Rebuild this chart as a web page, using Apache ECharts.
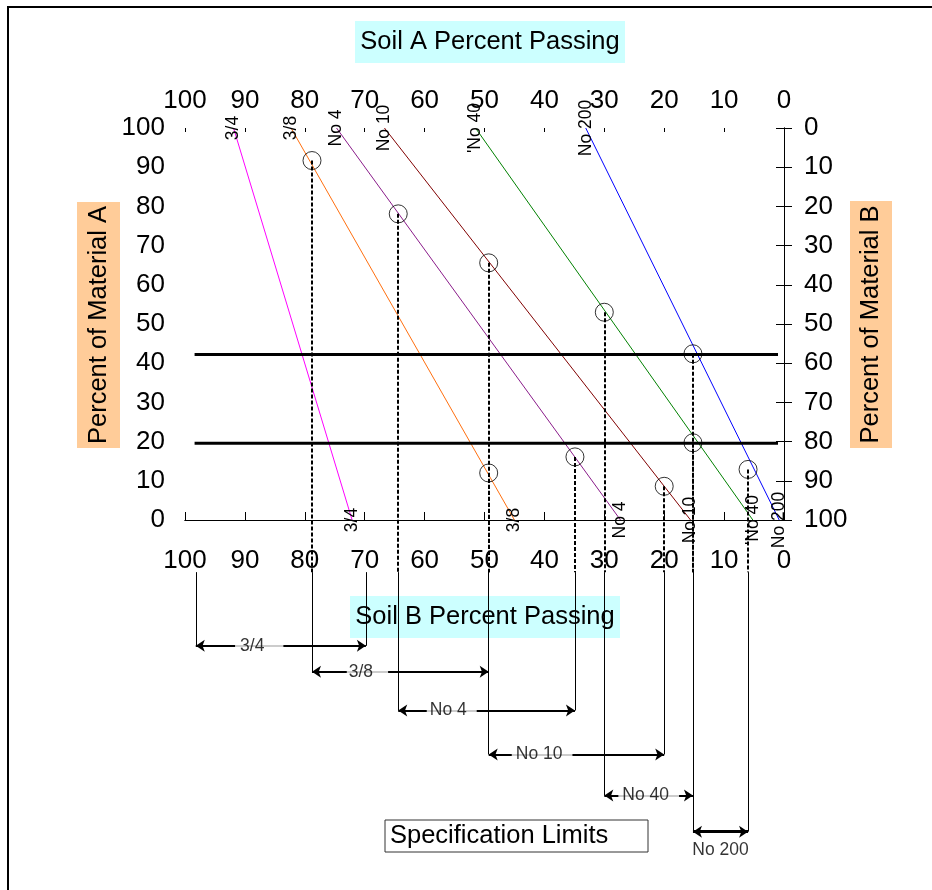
<!DOCTYPE html>
<html><head><meta charset="utf-8">
<script src="https://cdn.jsdelivr.net/npm/echarts@6/dist/echarts.min.js"></script>
<style>html,body{margin:0;padding:0;background:#fff}#c{width:932px;height:890px}</style>
</head><body><div id="c"></div>
<script>
// ---------- data ----------
const sieveNames  = ['3/4', '3/8', 'No 4', 'No 10', 'No 40', 'No 200'];
const lineLabels  = ['3/4', '3/8', 'No 4', 'No 10', "'No 40", 'No 200'];
const soilA       = [91.9, 82.3, 74.7, 66.7, 51.5, 33.1];   // % passing, soil A (100% material A)
const soilB       = [72.1, 45.0, 27.3, 15.6, 5.2, 0.8];     // % passing, soil B (0% material A)
const specHi      = [98.2, 78.8, 64.4, 49.3, 30.0, 15.2];   // upper spec limit
const specLo      = [69.8, 49.3, 34.9, 20.0, 15.2, 6.0];    // lower spec limit
const upperCircleY = [null, 91.7, 78.1, 65.6, 53.0, 42.4];  // % material A where blend = upper limit
const lowerCircleY = [null, 12.0, 16.1, 8.6, 19.7, 12.9];   // % material A where blend = lower limit
const blendLimits = [42.2, 19.6];                           // allowed range of material A

// ---------- layout / style ----------
const FONT = "'Liberation Sans', Arial, sans-serif";
const lineColors = ['#ff00ff', '#ff6f0f', '#8a1c8a', '#800000', '#008000', '#0000ff'];
const LOWER_MIN = -(890 - 520) / 3.92;        // lower helper grid reaches the page bottom
const DASH_END = -13.3;                       // helper-grid units
const BRACKET_Y = [-32.1, -38.7, -48.6, -59.8, -70.3, -79.5];
const LABEL_GAP_X = [91.65, 73.0, 59.65, 45.46, 27.66];
const LABEL_PAD = [[0, 19, 0, 5], [0, 15, 0, 2], [0, 10, 0, 3], [0, 10, 0, 4], [0, 10, 0, 4]];
const LIMIT_X = [98.4, 1.0];

const series = [];
sieveNames.forEach((n, i) => {
  series.push({
    type: 'line', xAxisIndex: 0, yAxisIndex: 0, silent: true, z: 2,
    data: [[soilA[i], 100], [soilB[i], 0]], symbol: 'none',
    lineStyle: { color: lineColors[i], width: 1 }
  });
});
blendLimits.forEach(y => {
  series.push({
    type: 'line', xAxisIndex: 0, yAxisIndex: 0, silent: true, z: 3,
    data: [[LIMIT_X[0], y], [LIMIT_X[1], y]], symbol: 'none',
    lineStyle: { color: '#000', width: 3 }
  });
});
const circleData = [];
specHi.forEach((x, i) => { if (upperCircleY[i] != null) circleData.push([x, upperCircleY[i]]); });
specLo.forEach((x, i) => { if (lowerCircleY[i] != null) circleData.push([x, lowerCircleY[i]]); });
series.push({
  type: 'scatter', xAxisIndex: 0, yAxisIndex: 0, silent: true, z: 4,
  data: circleData, symbol: 'circle', symbolSize: 18,
  itemStyle: { color: 'rgba(0,0,0,0)', borderColor: '#000', borderWidth: 1 }
});
const endLabelData = [];
lineLabels.forEach((n, i) => {
  endLabelData.push({ value: [soilA[i], 100], name: n });
  endLabelData.push({ value: [soilB[i], 0], name: n });
});
series.push({
  type: 'scatter', xAxisIndex: 0, yAxisIndex: 0, silent: true, z: 5,
  data: endLabelData, symbolSize: 1, itemStyle: { color: 'rgba(0,0,0,0)' },
  label: { show: true, position: 'inside', rotate: 90, formatter: p => p.name,
           fontSize: 17.5, color: '#000', fontFamily: FONT, textBorderWidth: 0, opacity: 1 }
});
const dashData = circleData.map(p => ({ coords: [[p[0], p[1]], [p[0], DASH_END]] }));
series.push({
  type: 'lines', coordinateSystem: 'cartesian2d', xAxisIndex: 3, yAxisIndex: 3, silent: true, z: 3,
  data: dashData, symbol: 'none',
  lineStyle: { color: '#000', width: 2, type: [4, 2], opacity: 1 }
});
const vertData = [];
sieveNames.forEach((n, i) => {
  vertData.push({ coords: [[specHi[i], DASH_END], [specHi[i], BRACKET_Y[i]]] });
  vertData.push({ coords: [[specLo[i], DASH_END], [specLo[i], BRACKET_Y[i]]] });
});
series.push({
  type: 'lines', coordinateSystem: 'cartesian2d', xAxisIndex: 3, yAxisIndex: 3, silent: true, z: 3,
  data: vertData, symbol: 'none',
  lineStyle: { color: '#000', width: 1, opacity: 1 }
});
const bracketData = sieveNames.map((n, i) => ({
  coords: [[specHi[i], BRACKET_Y[i]], [specLo[i], BRACKET_Y[i]]],
  lineStyle: { width: i === 5 ? 3 : 2 }
}));
series.push({
  type: 'lines', coordinateSystem: 'cartesian2d', xAxisIndex: 3, yAxisIndex: 3, silent: true, z: 3,
  data: bracketData, symbol: ['arrow', 'arrow'], symbolSize: 9,
  lineStyle: { color: '#000', width: 2, opacity: 1 }
});
const bracketLabelData = sieveNames.slice(0, 5).map((n, i) => ({
  value: [LABEL_GAP_X[i], BRACKET_Y[i]], name: n,
  label: { padding: LABEL_PAD[i] }
}));
series.push({
  type: 'scatter', xAxisIndex: 3, yAxisIndex: 3, silent: true, z: 6,
  data: bracketLabelData, symbolSize: 0.1, itemStyle: { color: 'rgba(0,0,0,0)' },
  label: { show: true, position: 'right', distance: 0, formatter: p => p.name,
           fontSize: 17.5, color: '#000', fontFamily: FONT, backgroundColor: '#fff', textBorderWidth: 0 }
});
series.push({
  type: 'scatter', xAxisIndex: 3, yAxisIndex: 3, silent: true, z: 6,
  data: [{ value: [(specHi[5] + specLo[5]) / 2, BRACKET_Y[5]], name: sieveNames[5] }],
  symbolSize: 0.1, itemStyle: { color: 'rgba(0,0,0,0)' },
  label: { show: true, position: 'bottom', distance: 9, formatter: p => p.name,
           fontSize: 17.5, color: '#000', fontFamily: FONT, textBorderWidth: 0 }
});

const lbl = (margin) => ({ show: true, fontSize: 26, color: '#000', fontFamily: FONT, margin });
const line = { show: true, lineStyle: { color: '#000', width: 1 } };
const base = { type: 'value', min: 0, max: 100, interval: 10, splitLine: { show: false } };

function textBox(x, y, w, h, fill, text, rot, stroke, alignLeft) {
  const cx = x + w / 2, cy = y + h / 2;
  return [
    { type: 'rect', z: 0, silent: true, shape: { x, y, width: w, height: h },
      style: { fill, stroke: stroke || null, lineWidth: stroke ? 1 : 0 } },
    { type: 'text', z: 1, silent: true, x: alignLeft ? x + 5 : cx, y: cy, rotation: rot || 0,
      style: { text, fontSize: 25.5, fontFamily: FONT, fill: '#000',
               align: alignLeft ? 'left' : 'center', verticalAlign: 'middle',
               textAlign: alignLeft ? 'left' : 'center', textVerticalAlign: 'middle' } }
  ];
}

const option = {
  animation: false,
  backgroundColor: '#fff',
  grid: [
    { left: 185, top: 128, width: 599, height: 392, containLabel: false },
    { left: 185, top: 128, width: 599, height: 762, containLabel: false }
  ],
  xAxis: [
    Object.assign({}, base, { gridIndex: 0, position: 'bottom', inverse: true, axisLine: line,
      axisTick: { inside: true, length: 8, lineStyle: { color: '#000' } }, axisLabel: lbl(28) }),
    Object.assign({}, base, { gridIndex: 0, position: 'top', inverse: true, axisLine: line,
      axisTick: { inside: false, length: 4, lineStyle: { color: '#000' } }, axisLabel: lbl(14) }),
    Object.assign({}, base, { gridIndex: 0, position: 'top', inverse: true, axisLine: { show: false },
      axisTick: { inside: true, length: 4, lineStyle: { color: '#000' } }, axisLabel: { show: false } }),
    Object.assign({}, base, { gridIndex: 1, inverse: true, show: false })
  ],
  yAxis: [
    Object.assign({}, base, { gridIndex: 0, position: 'left', axisLine: line,
      axisTick: { inside: false, length: 8, lineStyle: { color: '#000' } }, axisLabel: lbl(20) }),
    Object.assign({}, base, { gridIndex: 0, position: 'left', axisLine: { show: false },
      axisTick: { inside: true, length: 4, lineStyle: { color: '#000' } }, axisLabel: { show: false } }),
    Object.assign({}, base, { gridIndex: 0, position: 'right', inverse: true, axisLine: line,
      axisTick: { inside: false, length: 8, lineStyle: { color: '#000' } }, axisLabel: lbl(20) }),
    { type: 'value', gridIndex: 1, min: LOWER_MIN, max: 100, show: false, splitLine: { show: false } }
  ],
  graphic: [
    { type: 'rect', z: 0, silent: true, shape: { x: 8, y: 7, width: 1000, height: 1000 },
      style: { fill: null, stroke: '#000', lineWidth: 2 } },
    ...textBox(355, 21, 270, 42, '#ccffff', 'Soil A Percent Passing'),
    ...textBox(350, 596, 270, 42, '#ccffff', 'Soil B Percent Passing'),
    ...textBox(77, 202, 43, 246, '#ffcc99', 'Percent of Material A', Math.PI / 2),
    ...textBox(850, 201, 42, 247, '#ffcc99', 'Percent of Material B', Math.PI / 2),
    ...textBox(385, 820, 263, 32, '#ffffff', 'Specification Limits', 0, '#333', true)
  ],
  series
};
const chart = echarts.init(document.getElementById('c'), null, { renderer: 'canvas' });
chart.setOption(option);
</script></body></html>
